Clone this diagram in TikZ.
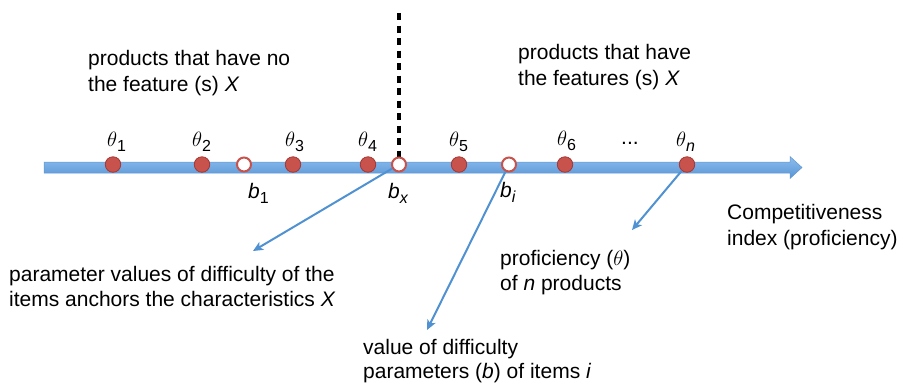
\documentclass[tikz,border=0pt]{standalone}
\usepackage{fontspec}
\setmainfont{Liberation Sans}
\usetikzlibrary{arrows.meta}
\definecolor{bartop}{RGB}{140,190,238}
\definecolor{barbot}{RGB}{88,148,212}
\definecolor{baredge}{RGB}{95,150,210}
\definecolor{connblue}{RGB}{80,145,210}
\definecolor{dotfill}{RGB}{200,82,76}
\definecolor{dotedge}{RGB}{165,55,50}
\newcommand\sbs[1]{\raisebox{-5pt}{\fontsize{16}{16}\selectfont #1}}
\tikzset{
  x=1pt, y=-1pt,
  txt/.style={anchor=base west, inner sep=0pt, font=\fontsize{21}{25}\selectfont},
  lbl/.style={anchor=base west, inner sep=0pt, font=\fontsize{21}{25}\selectfont},
  fulldot/.style={circle, minimum size=15.5pt, inner sep=0pt, fill=dotfill, draw=dotedge, line width=0.8pt},
  opendot/.style={circle, minimum size=14pt, inner sep=0pt, fill=white, draw=dotfill, line width=2pt},
  conn/.style={draw=connblue, line width=2pt, -{Stealth[length=10pt,width=9pt,inset=2.5pt]}},
  divider/.style={draw=black, line width=3.2pt, dash pattern=on 7pt off 5.5pt}
}
\begin{document}
\begin{tikzpicture}
\useasboundingbox (0,0) rectangle (899,384);
% axis bar with arrow head
\shade[top color=bartop, bottom color=barbot, draw=baredge, line width=0.5pt]
  (44,162) -- (790,162) -- (790,156.5) -- (802,167.5) -- (790,178.5) -- (790,173) -- (44,173) -- cycle;
% divider
\coordinate (dtop) at (399,13);
\coordinate (dbot) at (399,157);
\draw[divider] (dtop) -- (dbot);
% dots
\node[fulldot] (t1) at (113,164.5) {};
\node[fulldot] (t2) at (202,164.5) {};
\node[opendot] (b1) at (244,164.5) {};
\node[fulldot] (t3) at (293,164.5) {};
\node[fulldot] (t4) at (368,164.5) {};
\node[opendot] (bx) at (399,164.5) {};
\node[fulldot] (t5) at (459,164.5) {};
\node[opendot] (bi) at (509,164.5) {};
\node[fulldot] (t6) at (565,164.5) {};
\node[fulldot] (tn) at (687,164.5) {};
% theta labels
\node[lbl] (lt1) at (107,146) {\(\theta\)\sbs{1}};
\node[lbl] (lt2) at (192,146) {\(\theta\)\sbs{2}};
\node[lbl] (lt3) at (285,146) {\(\theta\)\sbs{3}};
\node[lbl] (lt4) at (358,146) {\(\theta\)\sbs{4}};
\node[lbl] (lt5) at (449,146) {\(\theta\)\sbs{5}};
\node[lbl] (lt6) at (557,145) {\(\theta\)\sbs{6}};
\node[lbl] (ldots) at (621,144) {...};
\node[lbl] (ltn) at (676,146) {\(\theta\)\sbs{\textit{n}}};
% b labels
\node[lbl] (lb1) at (248,198) {\textit{b}\sbs{1}};
\node[lbl] (lbx) at (388,198) {\textit{b}\sbs{\textit{x}}};
\node[lbl] (lbi) at (500,197) {\textit{b}\sbs{\textit{i}}};
% texts
\node[txt] (L1a) at (88,65) {products that have no};
\node[txt] (L1b) at (88,91) {the feature (s) \textit{X}};
\node[txt] (R1a) at (518,59) {products that have};
\node[txt] (R1b) at (518,85) {the features (s) \textit{X}};
\node[txt] (C1) at (727,219) {Competitiveness};
\node[txt] (C2) at (727,245) {index (proficiency)};
\node[txt] (P1) at (500,265) {proficiency (\(\theta\))};
\node[txt] (P2) at (500,290) {of \textit{n} products};
\node[txt] (A1) at (9,281) {parameter values of difficulty of the};
\node[txt] (A2) at (9,306) {items anchors the characteristics \textit{X}};
\node[txt] (V1) at (363,354) {value of difficulty};
\node[txt] (V2) at (363,378) {parameters (\textit{b}) of items \textit{i}};
% connectors
\coordinate (ea) at (253,251);
\coordinate (eb) at (427,330);
\coordinate (en) at (632,230);
\draw[conn] (bx) -- (ea);
\draw[conn] (bi) -- (eb);
\draw[conn] (tn) -- (en);
\end{tikzpicture}
\end{document}
